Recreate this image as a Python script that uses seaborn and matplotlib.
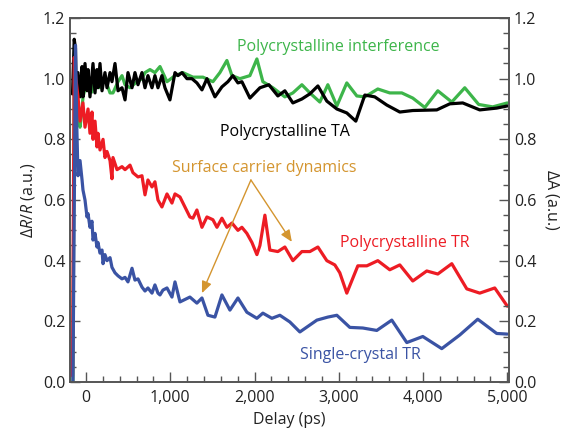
import numpy as np
import pandas as pd
import matplotlib
matplotlib.use("Agg")
import matplotlib.pyplot as plt
import seaborn as sns
from matplotlib.ticker import MultipleLocator, FuncFormatter

# ---------------- data ----------------
red_t = [-160, -140, -120, -95, -71, -36, -12, 24, 47, 71, 83, 107, 130, 142, 166, 202, 225, 249,
         285, 308, 320, 368, 427, 463, 522, 557, 617, 664, 700, 735, 783, 818, 854, 901, 961,
         1020, 1056, 1115, 1233, 1269, 1316, 1376, 1435, 1506, 1554, 1613, 1672, 1732, 1803,
         1850, 1909, 1969, 2028, 2064, 2123, 2182, 2277, 2360, 2455, 2562, 2657, 2752, 2858,
         2953, 3012, 3095, 3226, 3333, 3463, 3605, 3724, 3878, 4044, 4175, 4341, 4519, 4673,
         4851, 5000]
red_v = [0.02, 1.07, 1.00, 0.94, 0.86, 0.92, 0.84, 0.90, 0.82, 0.89, 0.80, 0.86, 0.775, 0.82,
         0.765, 0.80, 0.74, 0.76, 0.73, 0.67, 0.74, 0.70, 0.71, 0.70, 0.715, 0.69, 0.676, 0.68,
         0.617, 0.666, 0.643, 0.66, 0.60, 0.577, 0.62, 0.59, 0.62, 0.61, 0.544, 0.54, 0.567,
         0.51, 0.544, 0.535, 0.51, 0.54, 0.51, 0.524, 0.50, 0.51, 0.49, 0.46, 0.42, 0.45, 0.55,
         0.435, 0.43, 0.445, 0.40, 0.43, 0.43, 0.445, 0.40, 0.386, 0.36, 0.293, 0.383, 0.383,
         0.40, 0.37, 0.386, 0.333, 0.366, 0.356, 0.39, 0.307, 0.293, 0.31, 0.25]

blue_t = [-155, -125, -110, -95, -71, -47, -36, -12, 12, 24, 47, 71, 83, 107, 130, 142, 166, 190,
          202, 225, 249, 285, 308, 344, 380, 427, 463, 498, 546, 581, 617, 664, 700, 735, 783,
          818, 854, 878, 913, 961, 1020, 1056, 1115, 1233, 1316, 1376, 1447, 1530, 1613, 1708,
          1803, 1909, 2028, 2099, 2206, 2301, 2419, 2538, 2740, 2870, 2977, 3131, 3285, 3451,
          3629, 3807, 3997, 4222, 4436, 4649, 4874, 5000]
blue_v = [0.0, 1.11, 0.85, 0.68, 0.73, 0.666, 0.633, 0.60, 0.544, 0.555, 0.51, 0.53, 0.468,
          0.49, 0.445, 0.46, 0.425, 0.435, 0.39, 0.42, 0.40, 0.41, 0.378, 0.36, 0.35, 0.34,
          0.345, 0.33, 0.375, 0.336, 0.34, 0.313, 0.30, 0.31, 0.293, 0.32, 0.293, 0.287, 0.303,
          0.31, 0.28, 0.33, 0.264, 0.28, 0.26, 0.277, 0.22, 0.214, 0.287, 0.237, 0.277, 0.23,
          0.21, 0.227, 0.21, 0.22, 0.198, 0.165, 0.204, 0.214, 0.22, 0.18, 0.178, 0.17, 0.204,
          0.13, 0.15, 0.11, 0.155, 0.207, 0.16, 0.158]

green_t = [-155, -140, -120, -95, -71, -47, -36, 12, 71, 107, 166, 225, 285, 320, 380, 427, 463,
           522, 605, 664, 700, 759, 818, 878, 961, 1056, 1150, 1269, 1388, 1506, 1589, 1672,
           1732, 1826, 1945, 2028, 2099, 2218, 2360, 2455, 2562, 2657, 2775, 2870, 2977, 3095,
           3214, 3309, 3463, 3605, 3748, 3878, 4021, 4175, 4341, 4495, 4660, 4827, 5000]
green_v = [0.0, 1.00, 0.93, 0.87, 0.84, 0.90, 0.94, 0.99, 0.956, 1.00, 0.97, 1.00, 0.953, 0.953,
           0.99, 1.01, 0.98, 0.97, 0.99, 1.00, 1.02, 1.03, 1.02, 1.04, 0.99, 1.01, 1.02, 1.005,
           1.005, 0.99, 1.02, 1.06, 1.01, 1.00, 1.01, 1.065, 0.99, 0.97, 0.94, 0.953, 0.98,
           0.953, 0.923, 0.98, 0.91, 0.986, 0.943, 0.94, 0.966, 0.953, 0.953, 0.936, 0.905,
           0.96, 0.923, 0.97, 0.915, 0.907, 0.92]

black_t = [-160, -140, -125, -115, -95, -71, -47, -36, -12, 12, 24, 47, 83, 107, 130, 142, 166,
           190, 225, 249, 285, 308, 344, 380, 427, 463, 498, 546, 581, 617, 664, 700, 735, 783,
           818, 854, 901, 937, 996, 1056, 1091, 1139, 1198, 1257, 1316, 1376, 1435, 1530, 1613,
           1684, 1743, 1803, 1850, 1945, 2064, 2170, 2277, 2360, 2455, 2562, 2657, 2752, 2858,
           2977, 3095, 3202, 3309, 3427, 3570, 3724, 3878, 4163, 4317, 4471, 4673, 4874, 5000]
black_v = [0.95, 1.13, 1.10, 0.93, 1.02, 0.94, 1.04, 0.94, 1.05, 0.96, 1.03, 0.94, 1.05, 0.953,
           1.03, 0.97, 1.05, 0.96, 1.02, 0.97, 1.02, 0.99, 1.05, 0.96, 0.97, 0.93, 1.02, 0.97,
           1.02, 0.98, 1.02, 0.97, 1.01, 0.97, 1.01, 0.97, 1.01, 0.97, 0.93, 1.02, 1.01, 1.02,
           1.00, 1.00, 0.986, 0.963, 1.00, 0.94, 0.973, 0.99, 1.01, 0.986, 0.99, 0.936, 0.97,
           0.98, 0.943, 0.96, 0.92, 0.933, 0.95, 0.976, 0.926, 0.90, 0.887, 0.86, 0.946, 0.94,
           0.913, 0.89, 0.895, 0.897, 0.917, 0.92, 0.897, 0.903, 0.91]

labels = ["Polycrystalline interference", "Polycrystalline TA", "Surface carrier dynamics",
          "Polycrystalline TR", "Single-crystal TR"]
x_ticks = [0, 1000, 2000, 3000, 4000, 5000]
y_ticks = [0.0, 0.2, 0.4, 0.6, 0.8, 1.0, 1.2]

GREEN = "#3DB54A"
BLACK = "#000000"
RED = "#ED1C24"
BLUE = "#3A53A4"
GOLD = "#D4952F"
AXC = "#555555"
TXT = "#222222"

# ---------------- style ----------------
sns.set_style("ticks")
plt.rcParams["font.family"] = ["Open Sans", "DejaVu Sans"]
plt.rcParams["mathtext.fontset"] = "custom"
plt.rcParams["mathtext.it"] = "Open Sans:italic"
plt.rcParams["mathtext.rm"] = "Open Sans"

fig = plt.figure(figsize=(5.74, 4.37), dpi=100)
ax = fig.add_axes([70 / 574, 55 / 437, (509 - 70) / 574, (382 - 18) / 437])

frames = []
for name, t, v in [("green", green_t, green_v), ("black", black_t, black_v),
                   ("red", red_t, red_v), ("blue", blue_t, blue_v)]:
    frames.append(pd.DataFrame({"t": t, "v": v, "s": name}))
df = pd.concat(frames, ignore_index=True)

sns.lineplot(data=df, x="t", y="v", hue="s", sort=False, estimator=None,
             palette={"green": GREEN, "black": BLACK, "red": RED, "blue": BLUE},
             hue_order=["green", "black", "red", "blue"],
             linewidth=2.3, legend=False, ax=ax, clip_on=True)

ax.set_xlim(-190, 5020)
ax.set_ylim(0, 1.2)

def style_axis(a):
    a.tick_params(which="both", direction="in", colors=AXC, labelcolor=TXT, labelsize=11.5,
                  width=1.0)
    a.tick_params(which="major", length=7)
    a.tick_params(which="minor", length=4)
    for s in a.spines.values():
        s.set_color(AXC)
        s.set_linewidth(1.2)

ax.set_xticks(x_ticks)
ax.xaxis.set_minor_locator(MultipleLocator(200))
ax.xaxis.set_major_formatter(FuncFormatter(lambda v, p: f"{int(v):,}"))
ax.set_yticks(y_ticks)
ax.yaxis.set_minor_locator(MultipleLocator(0.05))
ax.yaxis.set_major_formatter(FuncFormatter(lambda v, p: f"{v:.1f}"))
style_axis(ax)
ax.tick_params(axis="x", pad=6)
sns.despine(ax=ax, top=False, right=False)

ax2 = ax.twinx()
ax2.set_ylim(0, 1.2)
ax2.set_yticks(y_ticks)
ax2.yaxis.set_minor_locator(MultipleLocator(0.05))
ax2.yaxis.set_major_formatter(FuncFormatter(lambda v, p: f"{v:.1f}"))
style_axis(ax2)

ax.set_xlabel("Delay (ps)", fontsize=11.5, color=TXT, labelpad=4)
ax.set_ylabel(r"$\Delta$$\it{R}$/$\it{R}$ (a.u.)", fontsize=11.5, color=TXT, labelpad=4)
ax2.set_ylabel(r"$\Delta$A (a.u.)", fontsize=11.5, color=TXT, rotation=270, labelpad=18)

fs = 11.5
ax.text(1790, 1.105, labels[0], color=GREEN, fontsize=fs, va="center", ha="left")
ax.text(1589, 0.824, labels[1], color=BLACK, fontsize=fs, va="center", ha="left")
ax.text(1020, 0.706, labels[2], color=GOLD, fontsize=fs, va="center", ha="left")
ax.text(3012, 0.458, labels[3], color=RED, fontsize=fs, va="center", ha="left")
ax.text(2538, 0.089, labels[4], color=BLUE, fontsize=fs, va="center", ha="left")

apex = (1957, 0.666)
for end in [(1376, 0.293), (2443, 0.462)]:
    ax.annotate("", xy=end, xytext=apex,
                arrowprops=dict(arrowstyle="-|>,head_length=0.7,head_width=0.3",
                                color=GOLD, lw=1.0, shrinkA=0, shrinkB=0))

fig.savefig("out.png", dpi=100)
